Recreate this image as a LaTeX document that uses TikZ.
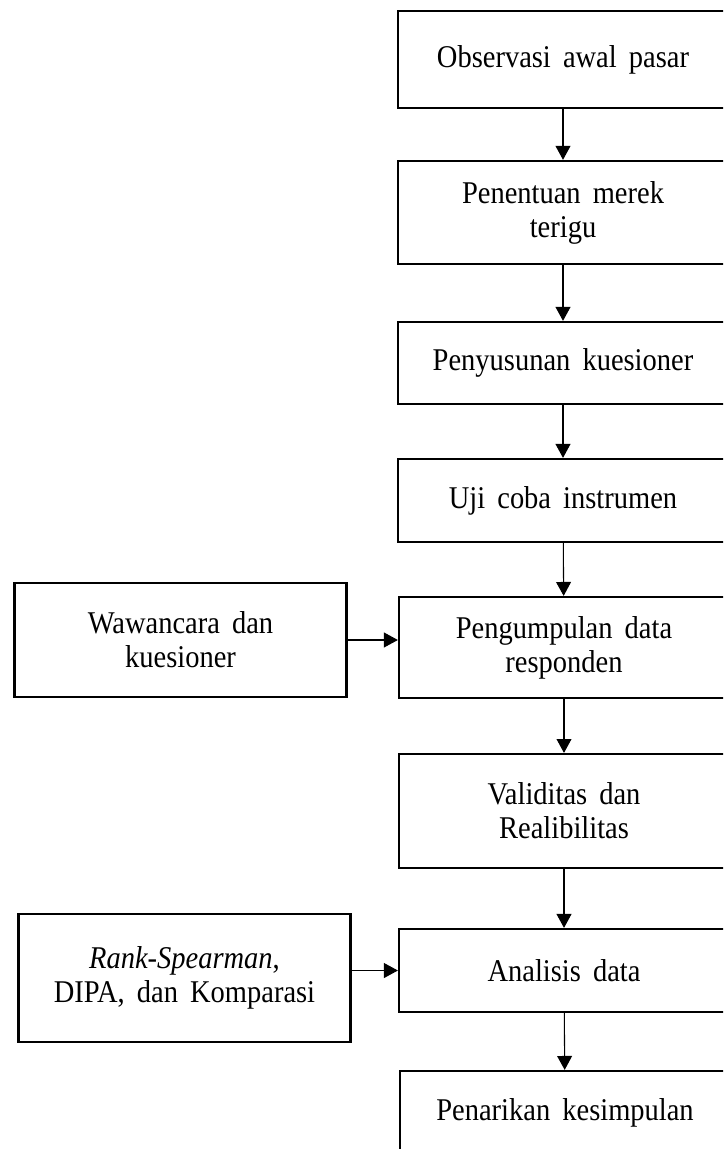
\documentclass[tikz,border=0pt]{standalone}
\usepackage{fontspec}
\setmainfont{Liberation Serif}[WordSpace=1.7, FakeStretch=0.9]
\usetikzlibrary{arrows.meta, positioning}
\tikzstyle{blockr} = [rectangle, draw, line width=0.95pt, minimum width=137.6pt, text centered, align=center, font=\fontsize{13.2}{14.2}\selectfont]
\tikzstyle{blockl} = [rectangle, draw, line width=0.95pt, minimum width=138.5pt, text centered, align=center, font=\fontsize{13.2}{14.2}\selectfont]
\tikzset{
	flow/.style={-{Triangle[length=5.8pt,width=6.2pt]}, line width=0.45pt}
	}

\begin{document}
\begin{tikzpicture}[x=0.417pt, y=-0.417pt]
	\useasboundingbox (0,0) rectangle (723,1149);
	\clip (0,0) rectangle (723,1149);
	% main column
	\node [blockr, minimum height=40.4pt] (obs) at (563,59.5) {Observasi awal pasar};
	\node [blockr, minimum height=43.0pt] (merek) at (563,212.5) {Penentuan merek\\terigu};
	\node [blockr, minimum height=34.2pt] (susun) at (563,363) {Penyusunan kuesioner};
	\node [blockr, minimum height=34.6pt] (uji) at (563,500.5) {Uji coba instrumen};
	\node [blockr, minimum height=42.1pt] (kumpul) at (564,647.5) {Pengumpulan data\\responden};
	\node [blockr, minimum height=47.5pt] (valid) at (564,811) {Validitas dan\\Realibilitas};
	\node [blockr, minimum height=34.6pt] (analisis) at (564,970.5) {Analisis data};
	\node [blockr, minimum height=34.6pt] (simpul) at (565,1112.5) {Penarikan kesimpulan};
	% side inputs
	\node [blockl, minimum height=47.5pt] (wawancara) at (180.5,640) {Wawancara dan\\kuesioner};
	\node [blockl, minimum height=53.4pt] (metode) at (184.5,978) {\textit{Rank-Spearman},\\DIPA, dan Komparasi};

	\draw[flow] (obs) -- (merek);
	\draw[flow] (merek) -- (susun);
	\draw[flow] (susun) -- (uji);
	\draw[flow] (uji) -- (kumpul);
	\draw[flow] (kumpul) -- (valid);
	\draw[flow] (valid) -- (analisis);
	\draw[flow] (analisis) -- (simpul);
	\draw[flow] (wawancara.east) -- (wawancara.east -| kumpul.west);
	\draw[flow] (metode.east |- analisis.west) -- (analisis.west);
\end{tikzpicture}
\end{document}
